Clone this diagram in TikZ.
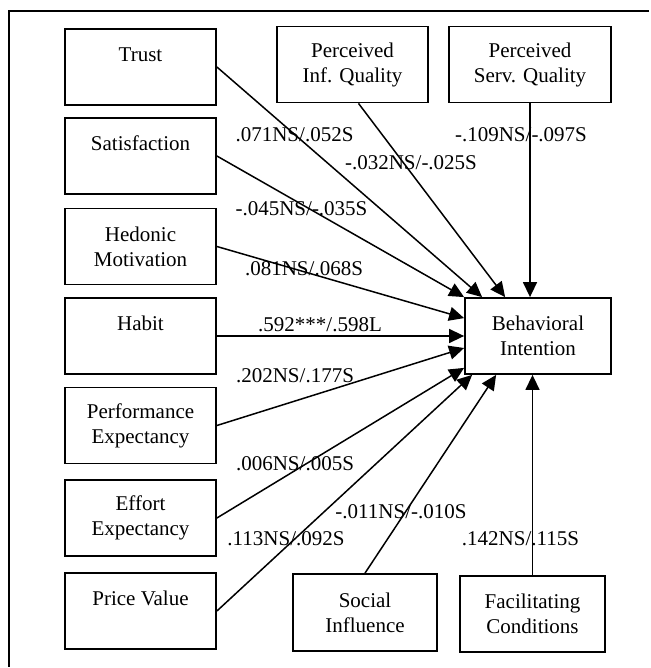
\documentclass[tikz,border=0pt]{standalone}
\usepackage{fontspec}
\setmainfont{Liberation Serif}
\usetikzlibrary{arrows.meta}
\usetikzlibrary{positioning}

\begin{document}
\begin{tikzpicture}[x=1pt,y=-1pt,
  box/.style={draw,line width=1.8pt,minimum width=151pt,minimum height=76pt,inner sep=0pt,align=center,font=\fontsize{21}{25}\selectfont},
  wt/.style={anchor=base,inner sep=0pt,font=\fontsize{21}{25}\selectfont},
  link/.style={line width=1.5pt,-{Triangle[length=15pt,width=14pt]}}]
  \useasboundingbox (0,0) rectangle (650,668);
  \draw[line width=1.8pt] (649,11) -- (9,11) -- (9,667);
  % predictors on the left
  \node[box] (trust) at (140.5,67) {Trust\\\mbox{}};
  \node[box] (satis) at (140.5,156) {Satisfaction\\\mbox{}};
  \node[box] (hedon) at (140.5,246.5) {Hedonic\\Motivation};
  \node[box] (habit) at (140.5,336) {Habit\\\mbox{}};
  \node[box] (perf) at (140.5,425.5) {Performance\\Expectancy};
  \node[box] (effort) at (140.5,518) {Effort\\Expectancy};
  \node[box] (price) at (140.5,611) {Price Value\\\mbox{}};
  % top and bottom
  \node[box] (piq) at (352.5,64.5) {Perceived\\Inf. Quality};
  \node[box,minimum width=162pt] (psq) at (530,64.5) {Perceived\\Serv. Quality};
  \node[box,minimum width=144pt,minimum height=77pt] (social) at (365,612.5) {Social\\Influence};
  \node[box,minimum width=145pt] (facil) at (532.5,614) {Facilitating\\Conditions};
  \node[box,minimum width=146pt] (bi) at (538,336) {Behavioral\\Intention};
  % paths
  \draw[link] (trust.east) -- ([xshift=18pt]bi.north west);
  \draw[link] (satis.east) -- (bi.north west);
  \draw[link] (hedon.east) -- ([yshift=-21pt]bi.north west);
  \draw[link] (habit.east) -- (bi.west);
  \draw[link] (perf.east) -- ([yshift=-12pt]bi.west);
  \draw[link] (effort.east) -- ([yshift=7pt]bi.south west);
  \draw[link] (price.east) -- ([xshift=8pt]bi.south west);
  \draw[link] (social.north) -- ([xshift=32pt]bi.south west);
  \draw[link] (facil.north) -- (facil.north |- bi.south);
  \draw[link] (psq.south) -- (psq.south |- bi.north);
  \draw[link] ([xshift=6pt]piq.south) -- ([xshift=41pt]bi.north west);
  % weights
  \node[wt] (w-trust) at (294.5,142) {.071NS/.052S};
  \node[wt] (w-piq) at (411,170) {-.032NS/-.025S};
  \node[wt] (w-psq) at (521,142) {-.109NS/-.097S};
  \node[wt] (w-satis) at (301.5,215) {-.045NS/-.035S};
  \node[wt] (w-hedon) at (304,275) {.081NS/.068S};
  \node[wt] (w-habit) at (320,331) {.592***/.598L};
  \node[wt] (w-perf) at (295,382) {.202NS/.177S};
  \node[wt] (w-effort) at (295,470) {.006NS/.005S};
  \node[wt] (w-social) at (401,518) {-.011NS/-.010S};
  \node[wt] (w-price) at (286,545) {.113NS/.092S};
  \node[wt] (w-facil) at (520.5,545) {.142NS/.115S};
\end{tikzpicture}
\end{document}
